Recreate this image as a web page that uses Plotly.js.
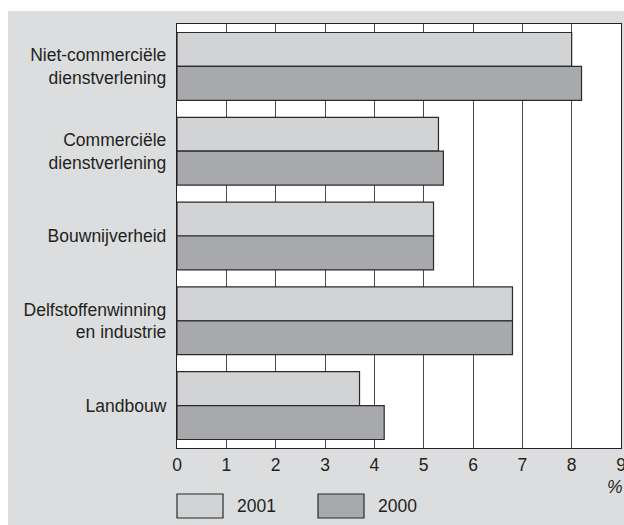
<!DOCTYPE html>
<html>
<head>
<meta charset="utf-8">
<script src="https://cdn.plot.ly/plotly-3.0.1.min.js"></script>
<style>
html,body{margin:0;padding:0;background:#ffffff;width:624px;height:525px;overflow:hidden;}
#chart{position:absolute;left:8px;top:11px;width:616px;height:514px;}
</style>
</head>
<body>
<div id="chart"></div>
<script>
const categories = ['Niet-commerciële<br>dienstverlening', 'Commerciële<br>dienstverlening', 'Bouwnijverheid', 'Delfstoffenwinning<br>en industrie', 'Landbouw'];
const seriesNames = ['2001', '2000'];
const values2001 = [8.0, 5.3, 5.2, 6.8, 3.7];
const values2000 = [8.2, 5.4, 5.2, 6.8, 4.2];
const xTicks = [0, 1, 2, 3, 4, 5, 6, 7, 8, 9];
const unitLabel = '%';

const colors = ['#d2d3d5', '#a8a9ac'];
const font = {family: 'Liberation Sans, Arial, sans-serif', size: 17.5, color: '#231f20'};

const traces = [values2001, values2000].map((vals, i) => ({
  type: 'bar',
  orientation: 'h',
  name: seriesNames[i],
  x: vals,
  y: categories,
  marker: {color: colors[i], line: {color: '#2a2a2a', width: 1.2}},
  hoverinfo: 'x+name'
}));

const W = 616, H = 514;
const m = {l: 169, r: 3, t: 13, b: 77};
const pw = W - m.l - m.r, ph = H - m.t - m.b;
function px(x){ return (x - m.l) / pw; }
function py(y){ return (H - m.b - y) / ph; }

const legendBoxes = [{x0: 169, x1: 215, tx: 227}, {x0: 310, x1: 356, tx: 368}];
const shapes = legendBoxes.map((b, i) => ({
  type: 'rect', xref: 'paper', yref: 'paper',
  x0: px(b.x0), x1: px(b.x1), y0: py(507), y1: py(483),
  fillcolor: colors[i], line: {color: '#2a2a2a', width: 1.2}
}));
const annotations = legendBoxes.map((b, i) => ({
  xref: 'paper', yref: 'paper', x: px(b.tx), y: py(495),
  xanchor: 'left', yanchor: 'middle', text: seriesNames[i], showarrow: false, font: font
}));
annotations.push({
  xref: 'paper', yref: 'paper', x: px(W), y: py(465),
  xanchor: 'right', yanchor: 'top', text: '<i>' + unitLabel + '</i>', showarrow: false, font: font,
  borderpad: 0
});

const layout = {
  width: W, height: H,
  margin: m,
  paper_bgcolor: '#dcdddf',
  plot_bgcolor: '#ffffff',
  font: font,
  barmode: 'group',
  bargap: 0.2,
  bargroupgap: 0,
  showlegend: false,
  xaxis: {
    range: [0, 9], tickvals: xTicks, ticktext: xTicks.map(String),
    showgrid: true, gridcolor: '#4a4a4a', gridwidth: 1,
    zeroline: false, showline: true, linecolor: '#231f20', linewidth: 1.2, mirror: true,
    ticks: '', ticklabelstandoff: 1, ticklabeloverflow: 'allow', tickfont: font, fixedrange: true
  },
  yaxis: {
    autorange: 'reversed', type: 'category',
    showgrid: false, zeroline: false, showline: true, linecolor: '#231f20', linewidth: 1.2, mirror: true,
    ticks: '', ticklabelstandoff: 6, tickfont: font, fixedrange: true
  },
  shapes: shapes,
  annotations: annotations
};

Plotly.newPlot('chart', traces, layout, {displayModeBar: false, staticPlot: true});
</script>
</body>
</html>
